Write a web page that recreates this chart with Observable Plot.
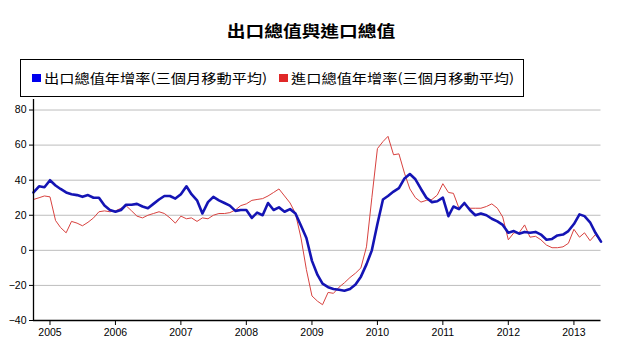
<!DOCTYPE html>
<html><head><meta charset="utf-8">
<script src="https://cdn.jsdelivr.net/npm/d3@7"></script>
<script src="https://cdn.jsdelivr.net/npm/@observablehq/plot@0.6"></script>
<style>
body{margin:0;background:#fff;}
#wrap{position:relative;width:617px;height:356px;overflow:hidden;}
#title{position:absolute;left:0;top:19px;width:622px;text-align:center;font-family:"Noto Sans CJK TC";font-weight:bold;font-size:16px;line-height:22px;color:#000;}
#title span{display:inline-block;transform:scaleX(1.17);transform-origin:center;}
#legendbox{position:absolute;left:20px;top:59px;width:504px;height:38px;box-sizing:border-box;border:1px solid #000;background:#fff;}
.item{position:absolute;top:69px;height:18px;line-height:18px;white-space:nowrap;font-family:"Noto Sans CJK TC";font-size:13px;color:#000;}
.sw{position:absolute;left:0;top:5px;width:9px;height:8px;}
.txt{position:absolute;left:12px;top:0;display:inline-block;transform:scaleX(1.17);transform-origin:left center;}
#plot{position:absolute;left:0;top:0;}
</style>
</head><body>
<div id="wrap">
<div id="plot"></div>
<div id="title"></div>
<div id="legendbox"></div>
</div>
<script>
const titleText = "出口總值與進口總值";
const seriesNames = ["出口總值年增率(三個月移動平均)", "進口總值年增率(三個月移動平均)"];
const seriesColors = ["#1414b4", "#d8423f"];
const swatchColors = ["#0000ee", "#e02828"];
const startMonth = "2004-10-01";
const endMonth = "2013-06-01";
const yTicks = [-40, -20, 0, 20, 40, 60, 80];
const yearTicks = [2005, 2006, 2007, 2008, 2009, 2010, 2011, 2012, 2013];

// 出口 (blue), monthly from 2004-10
const exportsYoY = [
  33, 36.5, 36, 40, 37, 35, 33, 32, 31.5, 30.5,
  31.5, 30, 30, 25.5, 23, 22, 23, 26, 26, 26.5,
  25, 24, 26.5, 29, 31, 31, 29.5, 32, 36.5, 32,
  28.5, 21, 27.5, 30.5, 28.5, 27, 25.5, 22.5, 23, 23,
  18.5, 21.5, 20, 27, 23, 24.5, 22, 23.5, 21, 14,
  7, -6, -14, -19, -21, -22, -22.5, -23, -22, -19.5,
  -15, -8, 0, 15, 29, 31, 33.5, 35.5, 41, 43.5,
  40.5, 35, 30, 27.5, 28, 30, 19.5, 25, 23.5, 27,
  23, 20, 21, 20, 18, 16.5, 14.5, 10, 11, 9.5,
  10.5, 10, 10.5, 9, 6, 6.5, 8.5, 9, 11, 15,
  20.5, 19.5, 16, 10, 5
];
// 進口 (red)
const importsYoY = [
  29, 30, 31, 30.5, 17, 13, 10, 16.5, 15.5, 14,
  16, 18.5, 22, 22.5, 22, 22.5, 24, 25.5, 22.5, 19.5,
  18.5, 20, 21, 22, 21, 18.5, 15.5, 19.5, 18, 18.5,
  16.5, 18.5, 18, 20, 21, 21, 21.5, 23, 25.5, 26.5,
  28.5, 29, 29.5, 31, 33, 35, 31, 27, 21, 7,
  -11, -26, -29, -31, -24, -24.5, -21, -18.5, -15.5, -13,
  -10, 2, 30, 58, 62, 65, 54.5, 55, 44, 35,
  30, 27.5, 28.5, 29, 31.5, 38, 33, 32.5, 24, 26,
  24, 24, 24, 25, 26.5, 24, 19, 6, 10, 10,
  14.5, 7.5, 8, 6, 3, 1.5, 1.5, 2, 4, 12,
  7.5, 10, 5.5, 9, 5
];

const t0 = new Date(startMonth + "T00:00:00Z");
const t1 = new Date(endMonth + "T00:00:00Z");
const months = d3.utcMonth.range(t0, d3.utcMonth.offset(t1, 1));
const data = months.map((d, i) => ({date: d, exp: exportsYoY[i], imp: importsYoY[i]}));
const xTickDates = yearTicks.map(y => new Date(Date.UTC(y, 0, 1)));

const tspan = document.createElement("span");
tspan.textContent = titleText;
document.getElementById("title").appendChild(tspan);
const wrap = document.getElementById("wrap");
const lefts = [32, 279];
seriesNames.forEach((n, i) => {
  const it = document.createElement("div");
  it.className = "item";
  it.style.left = lefts[i] + "px";
  const sw = document.createElement("span");
  sw.className = "sw";
  sw.style.background = swatchColors[i];
  it.appendChild(sw);
  const tx = document.createElement("span");
  tx.className = "txt";
  tx.textContent = n;
  it.appendChild(tx);
  wrap.appendChild(it);
});

const chart = Plot.plot({
  width: 617, height: 356,
  marginTop: 99, marginBottom: 36, marginLeft: 33, marginRight: 16.5,
  style: {fontFamily: "Liberation Sans", fontSize: "10.5px", background: "transparent", color: "#000"},
  x: {type: "utc", domain: [t0, t1]},
  y: {domain: [-40, 86]},
  marks: [
    Plot.ruleY(yTicks.filter(v => v > -40), {stroke: "#bdbdbd", strokeWidth: 1}),
    Plot.lineY(data, {x: "date", y: "imp", stroke: seriesColors[1], strokeWidth: 1}),
    Plot.lineY(data, {x: "date", y: "exp", stroke: seriesColors[0], strokeWidth: 2.6, strokeLinejoin: "round"}),
    Plot.ruleX([t0], {stroke: "#000", strokeWidth: 1.3}),
    Plot.ruleY([-40], {stroke: "#000", strokeWidth: 1.3}),
    Plot.axisX({ticks: xTickDates, tickFormat: d => String(d.getUTCFullYear()), tickSize: 5, tickPadding: 3, label: null, stroke: "#000"}),
    Plot.axisY({ticks: yTicks, tickSize: 4, tickPadding: 3, label: null, stroke: "#000"})
  ]
});
document.getElementById("plot").appendChild(chart);
</script>
</body></html>
